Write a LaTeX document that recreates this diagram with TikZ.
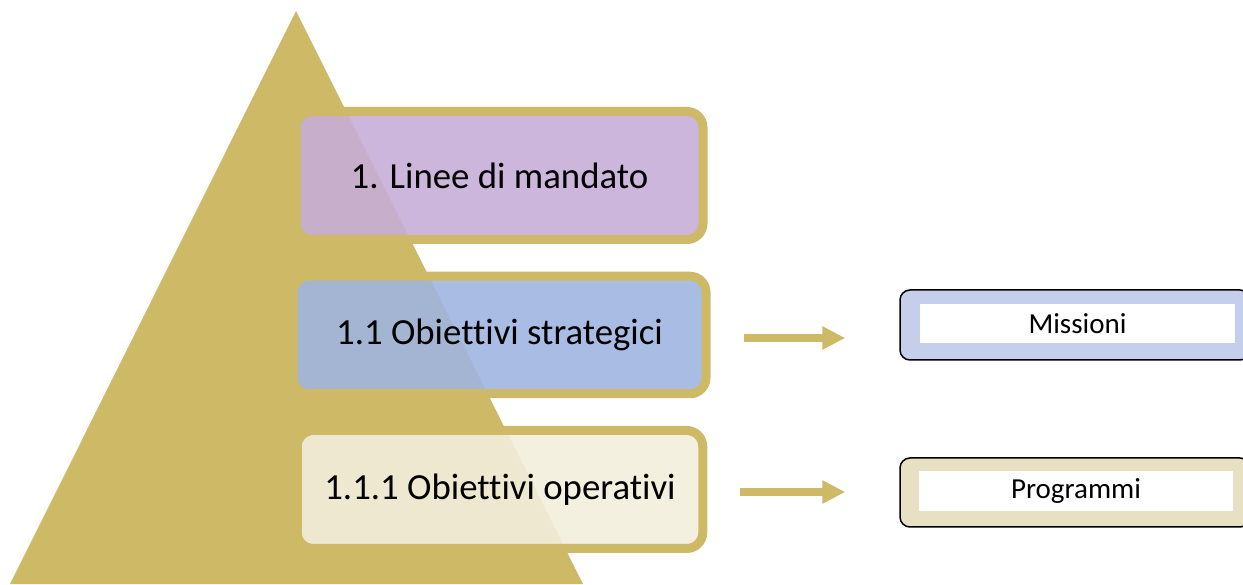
\documentclass[tikz,border=0pt]{standalone}
\usepackage{fontspec}
\setmainfont{Carlito}[Ligatures=NoCommon]
\usepackage{tikz}
\usetikzlibrary{arrows.meta,positioning}
\definecolor{pyrgold}{HTML}{CEB966}
\definecolor{lvlviolet}{RGB}{199,174,215}
\definecolor{lvlblue}{RGB}{160,181,225}
\definecolor{lvlcream}{RGB}{242,238,221}
\definecolor{outblue}{HTML}{C5CEEB}
\definecolor{outtan}{HTML}{E8E0C2}

\begin{document}
\begin{tikzpicture}[x=1pt, y=1pt,
  level/.style={rectangle, rounded corners=16pt, draw=pyrgold, line width=9pt,
                fill opacity=0.9, text opacity=1, align=center, inner sep=0pt,
                font=\fontsize{36.8}{44}\selectfont},
  outframe/.style={rectangle, rounded corners=10pt, draw=black, line width=1.5pt,
                   minimum width=350pt, inner sep=0pt},
  outlabel/.style={rectangle, fill=white, inner sep=0pt, font=\fontsize{29}{34}\selectfont},
  flow/.style={-{Triangle[length=23pt,width=22pt]}, line width=8pt, draw=pyrgold,
               shorten <=33pt, shorten >=54pt}]
\useasboundingbox (0,0) rectangle (1243,584);
% pyramid
\fill[pyrgold] (10,0) -- (296,573) -- (583,0) -- cycle;
% levels
\node[level, fill=lvlviolet, minimum width=407pt, minimum height=128pt] (mandato) at (499.5,408.5) {1. Linee di mandato};
\node[level, fill=lvlblue, minimum width=413pt, minimum height=117.5pt] (strat) at (499.5,249) {1.1 Obiettivi strategici};
\node[level, fill=lvlcream, minimum width=405.5pt, minimum height=118pt] (oper) at (500,94.5) {1.1.1 Obiettivi operativi};
% outputs
\node[outframe, fill=outblue, minimum height=70pt] (misframe) at (1075,259) {};
\node[outlabel, minimum width=315pt, minimum height=39pt] (mis) at (1077.5,260.5) {Missioni};
\node[outframe, fill=outtan, minimum height=69pt] (progframe) at (1075,91.5) {};
\node[outlabel, minimum width=314pt, minimum height=40pt] (prog) at (1076,93) {Programmi};
% arrows
\coordinate (s1) at ([yshift=-3pt]strat.east);
\coordinate (s2) at ([yshift=-2.5pt]oper.east);
\draw[flow] (s1) -- (s1 -| misframe.west);
\draw[flow] (s2) -- (s2 -| progframe.west);
\end{tikzpicture}
\end{document}
